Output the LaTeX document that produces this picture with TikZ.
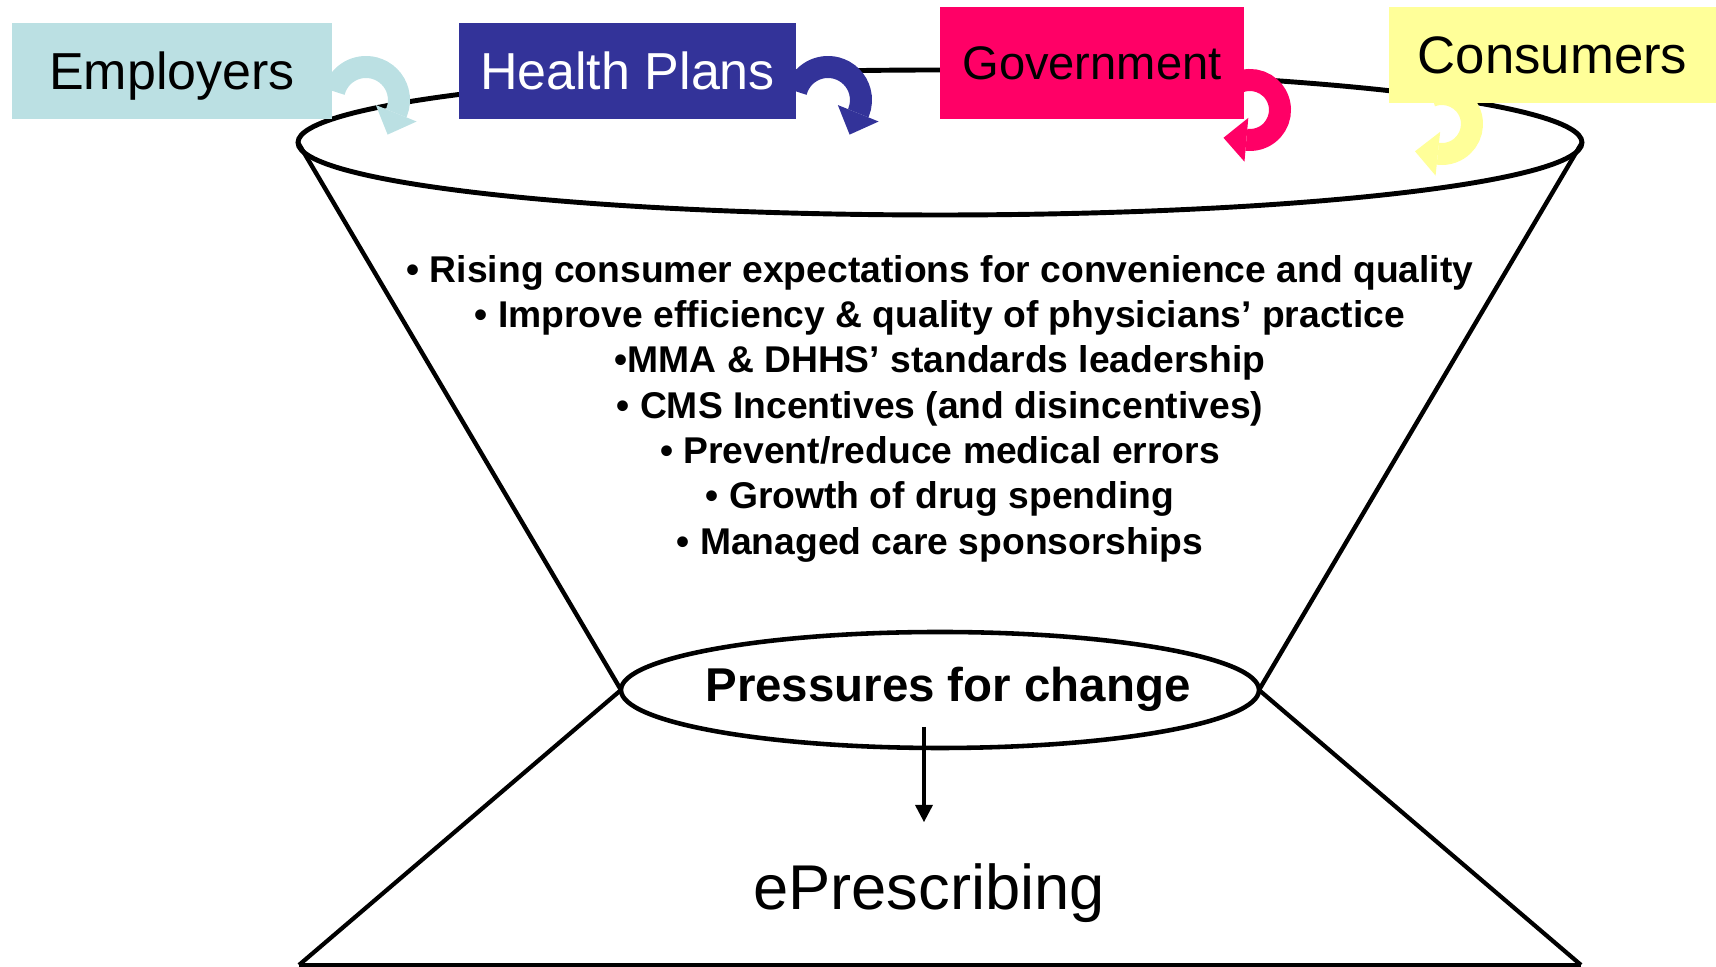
\documentclass[tikz,border=0pt]{standalone}
\usepackage{fontspec}
\setmainfont{Liberation Sans}
\usetikzlibrary{arrows.meta}

\definecolor{empcol}{HTML}{BBE0E3}
\definecolor{plancol}{HTML}{333399}
\definecolor{govcol}{HTML}{FF0066}
\definecolor{concol}{HTML}{FFFF99}

\begin{document}
\begin{tikzpicture}[
  pull/.style={line width=0.22cm, -{Triangle[length=0.23cm, width=0.44cm, line width=0pt]}},
  group/.style={inner sep=0pt, text depth=0pt},
  bullet/.style={font=\fontsize{10.6}{12.8}\selectfont\bfseries, anchor=base}
]

  \useasboundingbox (0,0) rectangle (17.16, 9.67);

  % Define the centres and the side points of the rims
  \coordinate (T) at (9.40, 8.245);
  \coordinate (N) at (9.40, 2.77);
  \coordinate (TL) at (2.98, 8.245);
  \coordinate (TR) at (15.82, 8.245);
  \coordinate (NL) at (6.21, 2.77);
  \coordinate (NR) at (12.59, 2.77);
  \coordinate (BL) at (2.99, 0.02);
  \coordinate (BR) at (15.81, 0.02);

  % Draw the top rim and the sides of the funnel
  \draw[line width=1.4pt] (T) ellipse[x radius=6.42, y radius=0.725];
  \draw[line width=1.25pt] (TL) -- (NL);
  \draw[line width=1.25pt] (TR) -- (NR);

  % Draw the base below the neck
  \draw[line width=1.2pt] (NL) -- (BL);
  \draw[line width=1.2pt] (NR) -- (BR);
  \draw[line width=1.3pt] (BL) -- (BR);

  % Draw the neck
  \draw[line width=1.3pt] (N) ellipse[x radius=3.19, y radius=0.58];

  % Centres of the curved arrows that drop into the funnel
  \coordinate (EC) at (3.66, 8.67);
  \coordinate (HC) at (8.28, 8.67);
  \coordinate (GC) at (12.50, 8.57);
  \coordinate (CC) at (14.42, 8.43);

  % Draw the curved arrows (the boxes are drawn on top of their ends)
  \draw[pull, empcol] ([shift={(165:0.33)}]EC) arc[start angle=165, end angle=-22, radius=0.33] -- ++(-112:0.24);
  \draw[pull, plancol] ([shift={(165:0.33)}]HC) arc[start angle=165, end angle=-22, radius=0.33] -- ++(-112:0.24);
  \draw[pull, govcol] ([shift={(115:0.30)}]GC) arc[start angle=115, end angle=-95, radius=0.30] -- ++(175:0.24);
  \draw[pull, concol] ([shift={(110:0.30)}]CC) arc[start angle=110, end angle=-96, radius=0.30] -- ++(174:0.24);

  % Add the four groups that push on the funnel
  \node[group, fill=empcol, minimum width=3.20cm, minimum height=0.96cm, text height=10.6pt,
        font=\fontsize{14.8}{16}\selectfont] (employers) at (1.72, 8.96) {Employers};
  \node[group, fill=plancol, text=white, minimum width=3.37cm, minimum height=0.96cm, text height=10.6pt,
        font=\fontsize{14.8}{16}\selectfont] (plans) at (6.275, 8.96) {Health Plans};
  \node[group, fill=govcol, minimum width=3.04cm, minimum height=1.12cm, text height=9.6pt,
        font=\fontsize{13.4}{16}\selectfont] (government) at (10.92, 9.04) {Government};
  \node[group, fill=concol, minimum width=3.27cm, minimum height=0.96cm, text height=10.7pt,
        font=\fontsize{15}{17}\selectfont] (consumers) at (15.525, 9.12) {Consumers};

  % Add the list of pressures inside the funnel
  \foreach \line [count=\i] in {%
      • Rising consumer expectations for convenience and quality,
      • Improve efficiency \& quality of physicians’ practice,
      •MMA \& DHHS’ standards leadership,
      • CMS Incentives (and disincentives),
      • Prevent/reduce medical errors,
      • Growth of drug spending,
      • Managed care sponsorships}
    \node[bullet] (item\i) at (9.40, {7.30-0.453*\i}) {\line};

  % Add the label in the neck and the result below it
  \node[font=\fontsize{13.5}{16}\selectfont\bfseries, anchor=base] (pressures) at (9.48, 2.65) {Pressures for change};
  \node[font=\fontsize{18}{20}\selectfont, anchor=base] (erx) at (9.29, 0.57) {ePrescribing};

  % Draw the arrow from the neck down to the result
  \coordinate (A1) at (9.24, 2.40);
  \coordinate (A2) at (9.24, 1.45);
  \draw[line width=1.4pt, -{Triangle[length=0.17cm, width=0.18cm, line width=0pt]}] (A1) -- (A2);

\end{tikzpicture}
\end{document}
